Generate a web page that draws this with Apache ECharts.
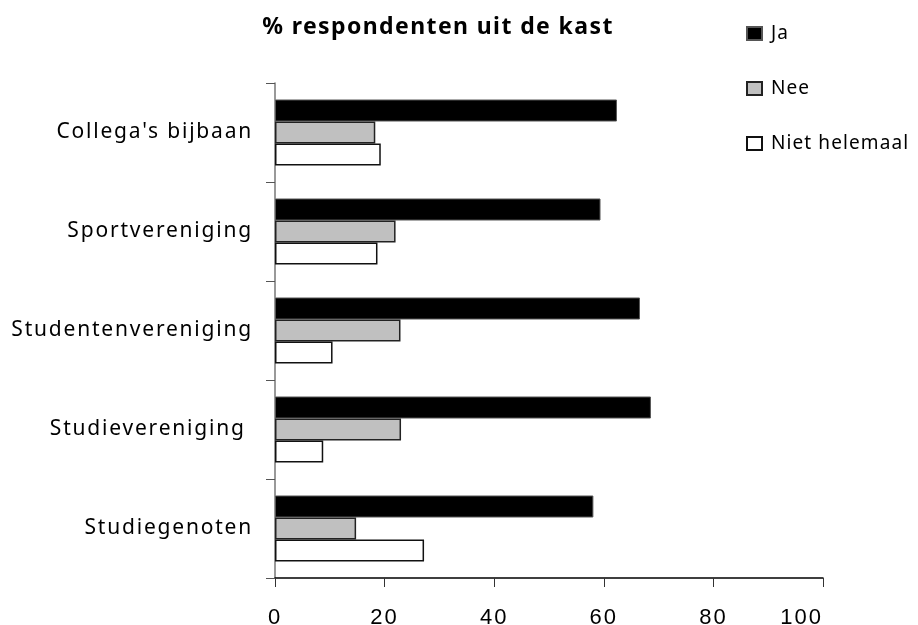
<!DOCTYPE html>
<html>
<head>
<meta charset="utf-8">
<script src="https://cdn.jsdelivr.net/npm/echarts@6/dist/echarts.min.js"></script>
<style>
  html, body { margin: 0; padding: 0; background: #fff; }
  #chart { width: 918px; height: 625px; }
</style>
</head>
<body>
<div id="chart"></div>
<script>
// categories listed top to bottom, as in the picture
const categories = ["Collega's bijbaan", "Sportvereniging", "Studentenvereniging", "Studievereniging ", "Studiegenoten"];
const jaValues = [62.4, 59.4, 66.6, 68.6, 58.1];
const neeValues = [18.3, 22.0, 22.9, 23.0, 14.8];
const nietHelemaalValues = [19.3, 18.7, 10.5, 8.8, 27.2];
const xTicks = [0, 20, 40, 60, 80, 100];

const font = "'Noto Sans', sans-serif";
const numberFont = "'Liberation Sans', Arial, sans-serif";

// the original text is set wide; echarts has no letter spacing option, so add it on the canvas
const spacingBySize = { "19px": "1.1px", "21px": "1.8px", "22px": "2px", "23px": "1.4px" };
const fillText = CanvasRenderingContext2D.prototype.fillText;
CanvasRenderingContext2D.prototype.fillText = function (text, x, y, maxWidth) {
  const size = (this.font.match(/\d+px/) || [""])[0];
  this.letterSpacing = spacingBySize[size] || "0px";
  return maxWidth === undefined ? fillText.call(this, text, x, y) : fillText.call(this, text, x, y, maxWidth);
};

const chart = echarts.init(document.getElementById("chart"), null, { renderer: "canvas" });

function barSeries(name, data, color, borderColor, borderWidth) {
  return {
    name: name,
    type: "bar",
    data: data,
    barWidth: 22,
    barGap: "0%",
    barCategoryGap: "32%",
    itemStyle: { color: color, borderColor: borderColor, borderWidth: borderWidth },
    emphasis: { disabled: true },
  };
}

chart.setOption({
  animation: false,
  title: {
    text: "% respondenten uit de kast",
    left: 433,
    textAlign: "center",
    top: 11,
    textStyle: { fontFamily: font, fontSize: 23, fontWeight: "bold", color: "#000" },
  },
  legend: {
    orient: "vertical",
    left: 741,
    top: 19,
    itemWidth: 15,
    itemHeight: 13,
    itemGap: 36,
    icon: "rect",
    textStyle: { fontFamily: font, fontSize: 19, color: "#000", padding: [0, 0, 0, 4] },
    data: ["Ja", "Nee", "Niet helemaal"],
  },
  grid: { left: 275, right: 95, top: 83, bottom: 47, containLabel: false, outerBoundsMode: "none" },
  xAxis: {
    type: "value",
    min: xTicks[0],
    max: xTicks[xTicks.length - 1],
    interval: xTicks[1] - xTicks[0],
    splitLine: { show: false },
    axisLine: { show: true, lineStyle: { color: "#000", width: 1.5 } },
    axisTick: { show: true, length: 9, lineStyle: { color: "#333" } },
    axisLabel: {
      fontFamily: numberFont,
      fontSize: 22,
      color: "#000",
      margin: 29,
      // the last label sits a little left of its tick in the original
      alignMaxLabel: "right",
    },
  },
  yAxis: {
    type: "category",
    inverse: true,
    data: categories,
    axisLine: { show: true, lineStyle: { color: "#777", width: 1.5 } },
    axisTick: { show: true, length: 9, lineStyle: { color: "#555" } },
    axisLabel: { fontFamily: font, fontSize: 21, color: "#000", margin: 22 },
  },
  series: [
    barSeries("Ja", jaValues, "#000", "#555", 1),
    barSeries("Nee", neeValues, "#c0c0c0", "#222", 1.5),
    barSeries("Niet helemaal", nietHelemaalValues, "#fff", "#111", 1.5),
  ],
});
</script>
</body>
</html>
